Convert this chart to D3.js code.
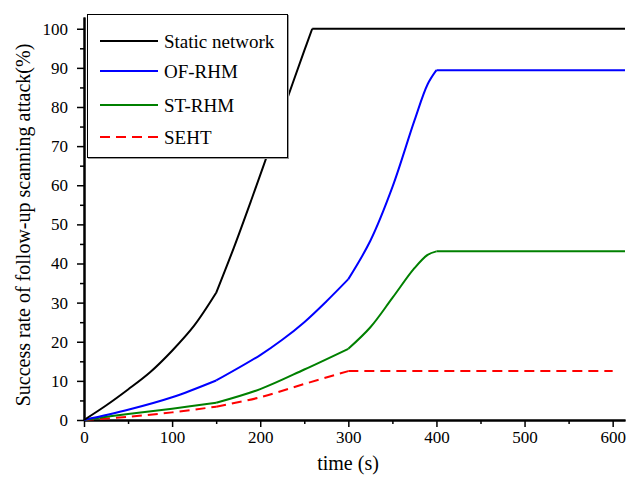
<!DOCTYPE html>
<html lang="en">
<head>
  <meta charset="UTF-8" />
  <title>Success rate of follow-up scanning attack</title>
  <script src="https://d3js.org/d3.v7.min.js"></script>
  <style>
    body { margin: 0; background: #fff; }
    text { font-family: "Liberation Serif", "Times New Roman", serif; fill: #000; }
  </style>
</head>
<body>
  <div id="chart"></div>

  <script>
    // values
    const staticT = [0, 25, 50, 75, 100, 125, 150, 170, 190, 210, 230, 250, 259, 400, 614];
    const staticV = [0, 3.7, 7.8, 12.2, 17.7, 24.1, 32.5, 44.0, 56.3, 69.0, 81.7, 94.4, 100, 100, 100];

    const ofT = [0, 50, 100, 150, 200, 225, 250, 275, 300, 325, 350, 375, 390, 400, 614];
    const ofV = [0, 2.6, 5.8, 10.1, 16.6, 20.5, 25.0, 30.3, 36.0, 45.8, 59.5, 76.5, 85.8, 89.4, 89.4];

    const stT = [0, 50, 100, 150, 200, 250, 300, 325, 350, 375, 390, 400, 614];
    const stV = [0, 1.55, 2.9, 4.4, 7.9, 12.9, 18.2, 23.7, 31.2, 38.8, 42.2, 43.1, 43.1];

    const sehtT = [0, 50, 100, 150, 200, 250, 300, 600];
    const sehtV = [0, 0.8, 1.95, 3.4, 5.8, 9.2, 12.5, 12.5];

    const seriesNames = ["Static network", "OF-RHM", "ST-RHM", "SEHT"];
    const xTicks = [0, 100, 200, 300, 400, 500, 600];
    const yTicks = [0, 10, 20, 30, 40, 50, 60, 70, 80, 90, 100];

    // each curve is drawn piece by piece between these times
    const staticBreaks = [0, 150, 259, 614];
    const ofBreaks = [0, 150, 300, 400, 614];
    const stBreaks = [0, 150, 300, 400, 614];
    const sehtBreaks = [0, 150, 300, 600];

    const series = [
      {name: seriesNames[0], t: staticT, v: staticV, br: staticBreaks, color: "#000000", dash: null},
      {name: seriesNames[1], t: ofT, v: ofV, br: ofBreaks, color: "#0000ff", dash: null},
      {name: seriesNames[2], t: stT, v: stV, br: stBreaks, color: "#008000", dash: null},
      {name: seriesNames[3], t: sehtT, v: sehtV, br: sehtBreaks, color: "#ff0000", dash: "10,6"}
    ];

    const margin = {top: 17, right: 5, bottom: 62, left: 84},
          width = 625 - margin.left,
          height = 420 - margin.top;

    const svg = d3.select("#chart")
      .append("svg")
      .attr("width", 630)
      .attr("height", 482)
      .append("g")
      .attr("transform", `translate(${margin.left},${margin.top})`);

    const x = d3.scaleLinear().domain([0, 614]).range([0, width]);
    const y = d3.scaleLinear().domain([0, 103]).range([height, 0]);

    // minor ticks
    svg.append("g")
      .attr("transform", `translate(0,${height})`)
      .call(d3.axisBottom(x).tickValues(d3.range(50, 614, 100)).tickSize(4).tickFormat("").tickSizeOuter(0));
    svg.append("g")
      .call(d3.axisLeft(y).tickValues(d3.range(5, 103, 10)).tickSize(4).tickFormat("").tickSizeOuter(0));

    svg.append("g")
      .attr("transform", `translate(0,${height})`)
      .call(d3.axisBottom(x).tickValues(xTicks).tickSize(7).tickPadding(4).tickSizeOuter(0))
      .attr("font-family", "Liberation Serif")
      .attr("font-size", 17);

    svg.append("g")
      .call(d3.axisLeft(y).tickValues(yTicks).tickSize(7).tickPadding(9).tickSizeOuter(0))
      .attr("font-family", "Liberation Serif")
      .attr("font-size", 17);

    svg.selectAll(".domain").attr("stroke", "#000").attr("stroke-width", 2);
    svg.selectAll(".tick line").attr("stroke", "#000").attr("stroke-width", 1.5);
    svg.selectAll(".tick text").attr("fill", "#000");

    const line = d3.line()
      .x(d => x(d[0]))
      .y(d => y(d[1]))
      .curve(d3.curveCatmullRom.alpha(0.5));

    series.slice().reverse().forEach(s => {
      const pts = s.t.map((t, i) => [t, s.v[i]]);
      for (let b = 0; b < s.br.length - 1; b++) {
        const seg = pts.filter(p => p[0] >= s.br[b] && p[0] <= s.br[b + 1]);
        if (seg.length < 2) continue;
        svg.append("path")
          .datum(seg)
          .attr("fill", "none")
          .attr("stroke", s.color)
          .attr("stroke-width", 2)
          .attr("stroke-dasharray", s.dash)
          .attr("d", line);
      }
    });

    // axis titles
    svg.append("text")
      .attr("x", 348 - margin.left)
      .attr("y", 470 - margin.top)
      .attr("text-anchor", "middle")
      .style("font-size", "20px")
      .text("time (s)");

    svg.append("text")
      .attr("transform", `translate(${30 - margin.left},${225 - margin.top}) rotate(-90)`)
      .attr("text-anchor", "middle")
      .style("font-size", "20px")
      .text("Success rate of follow-up scanning attack(%)");

    // legend
    const legend = svg.append("g")
      .attr("transform", `translate(${87 - margin.left},${14 - margin.top})`);

    legend.append("rect")
      .attr("x", 1.5).attr("y", 1.5)
      .attr("width", 200).attr("height", 143)
      .attr("fill", "none").attr("stroke", "#999").attr("stroke-width", 1);
    legend.append("rect")
      .attr("x", 0.5).attr("y", 0.5)
      .attr("width", 200).attr("height", 143)
      .attr("fill", "#fff").attr("stroke", "#000").attr("stroke-width", 1);

    const rowY = [27, 57, 91, 123];
    series.forEach((s, i) => {
      legend.append("line")
        .attr("x1", 13).attr("x2", 71)
        .attr("y1", rowY[i]).attr("y2", rowY[i])
        .attr("stroke", s.color)
        .attr("stroke-width", 2)
        .attr("stroke-dasharray", s.dash);
      legend.append("text")
        .attr("x", 77)
        .attr("y", rowY[i])
        .attr("dy", "0.35em")
        .style("font-size", "19px")
        .text(s.name);
    });
  </script>
</body>
</html>
